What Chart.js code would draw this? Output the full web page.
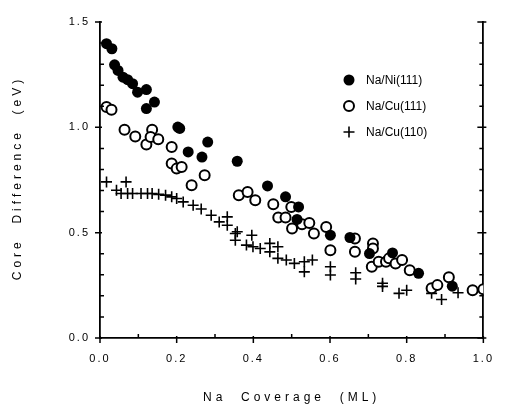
<!DOCTYPE html>
<html>
<head>
<meta charset="utf-8">
<script src="https://cdn.jsdelivr.net/npm/chart.js@4.4.1/dist/chart.umd.min.js"></script>
<style>
  html, body { margin: 0; padding: 0; background: #fff; }
  canvas { display: block; }
</style>
</head>
<body>
<canvas id="grafico" width="505" height="410"></canvas>
<script>
// values
const etiquetas = ["Na/Ni(111)", "Na/Cu(111)", "Na/Cu(110)"];
const tituloX = "Na  Coverage  (ML)";
const tituloY = "Core  Difference  (eV)";

const niX = [0.017, 0.031, 0.038, 0.047, 0.060, 0.072, 0.085, 0.098, 0.121, 0.121, 0.142, 0.203, 0.208, 0.230, 0.266, 0.281, 0.358, 0.437, 0.484, 0.518, 0.514, 0.601, 0.652, 0.703, 0.763, 0.831, 0.919];
const niY = [1.397, 1.373, 1.297, 1.270, 1.238, 1.226, 1.207, 1.167, 1.179, 1.089, 1.120, 1.001, 0.995, 0.883, 0.859, 0.930, 0.839, 0.722, 0.670, 0.622, 0.563, 0.488, 0.477, 0.401, 0.404, 0.307, 0.246];

const cu111X = [0.017, 0.030, 0.064, 0.092, 0.121, 0.136, 0.132, 0.152, 0.187, 0.187, 0.200, 0.213, 0.239, 0.273, 0.362, 0.385, 0.405, 0.452, 0.465, 0.484, 0.499, 0.501, 0.527, 0.546, 0.558, 0.590, 0.601, 0.665, 0.665, 0.712, 0.712, 0.709, 0.727, 0.746, 0.754, 0.771, 0.788, 0.808, 0.865, 0.880, 0.910, 0.972, 1.000];
const cu111Y = [1.096, 1.084, 0.989, 0.957, 0.919, 0.989, 0.954, 0.943, 0.907, 0.828, 0.804, 0.812, 0.725, 0.772, 0.678, 0.693, 0.654, 0.635, 0.572, 0.572, 0.622, 0.520, 0.540, 0.546, 0.496, 0.527, 0.417, 0.472, 0.409, 0.449, 0.425, 0.338, 0.362, 0.362, 0.378, 0.354, 0.370, 0.322, 0.236, 0.251, 0.288, 0.227, 0.231];

const cu110X = [0.017, 0.068, 0.043, 0.055, 0.072, 0.085, 0.107, 0.124, 0.136, 0.153, 0.171, 0.187, 0.200, 0.217, 0.243, 0.264, 0.290, 0.311, 0.332, 0.332, 0.358, 0.353, 0.353, 0.382, 0.396, 0.399, 0.418, 0.443, 0.443, 0.464, 0.464, 0.486, 0.507, 0.533, 0.533, 0.554, 0.601, 0.601, 0.667, 0.667, 0.737, 0.737, 0.780, 0.800, 0.865, 0.891, 0.934, 1.000];
const cu110Y = [0.741, 0.741, 0.701, 0.686, 0.686, 0.686, 0.686, 0.686, 0.686, 0.682, 0.678, 0.670, 0.662, 0.646, 0.630, 0.612, 0.583, 0.551, 0.575, 0.535, 0.504, 0.496, 0.464, 0.441, 0.488, 0.433, 0.425, 0.449, 0.409, 0.433, 0.378, 0.370, 0.354, 0.362, 0.314, 0.370, 0.338, 0.299, 0.310, 0.280, 0.260, 0.245, 0.212, 0.227, 0.212, 0.183, 0.215, 0.227];

const xMarcas = [0, 0.1, 0.2, 0.3, 0.4, 0.5, 0.6, 0.7, 0.8, 0.9, 1.0];
const xEtiquetas = [0, 0.2, 0.4, 0.6, 0.8, 1.0];
const yMarcas = [0, 0.1, 0.2, 0.3, 0.4, 0.5, 0.6, 0.7, 0.8, 0.9, 1.0, 1.1, 1.2, 1.3, 1.4, 1.5];
const yEtiquetas = [0, 0.5, 1.0, 1.5];

const puntos = (xs, ys) => xs.map((x, i) => ({ x: x, y: ys[i] }));
const esEtiqueta = (lista, v) => lista.some((e) => Math.abs(e - v) < 1e-6);

const fuente = "'Liberation Sans', Arial, sans-serif";

// small tick marks: major outward, minor inward
const marcasEjes = {
  id: "marcasEjes",
  beforeDraw(chart) {
    chart.ctx.letterSpacing = "2px";
  },
  afterDraw(chart) {
    const ctx = chart.ctx;
    const a = chart.chartArea;
    const sx = chart.scales.x;
    const sy = chart.scales.y;
    ctx.save();
    ctx.strokeStyle = "#000";
    ctx.lineWidth = 1.5;
    ctx.beginPath();
    xMarcas.forEach((v) => {
      const px = sx.getPixelForValue(v);
      if (esEtiqueta(xEtiquetas, v)) {
        ctx.moveTo(px, a.bottom - 2);
        ctx.lineTo(px, a.bottom + 5);
      } else {
        ctx.moveTo(px, a.bottom);
        ctx.lineTo(px, a.bottom - 4);
      }
    });
    yMarcas.forEach((v) => {
      const py = sy.getPixelForValue(v);
      if (esEtiqueta(yEtiquetas, v)) {
        ctx.moveTo(a.left - 5, py);
        ctx.lineTo(a.left + 2, py);
        ctx.moveTo(a.right - 6, py);
        ctx.lineTo(a.right + 3, py);
      } else {
        ctx.moveTo(a.left, py);
        ctx.lineTo(a.left + 4, py);
        ctx.moveTo(a.right - 4, py);
        ctx.lineTo(a.right, py);
      }
    });
    ctx.stroke();
    ctx.restore();
  }
};

// axis titles with wide letter spacing
const titulos = {
  id: "titulos",
  afterDraw(chart) {
    const ctx = chart.ctx;
    const a = chart.chartArea;
    const esp = 4;
    ctx.save();
    ctx.letterSpacing = esp + "px";
    ctx.font = "12px " + fuente;
    ctx.fillStyle = "#000";
    ctx.textAlign = "left";
    ctx.textBaseline = "middle";
    let w = ctx.measureText(tituloX).width - esp;
    ctx.fillText(tituloX, (a.left + a.right) / 2 - 2 - w / 2, 398);
    w = ctx.measureText(tituloY).width - esp;
    ctx.translate(18, (a.top + a.bottom) / 2);
    ctx.rotate(-Math.PI / 2);
    ctx.fillText(tituloY, -w / 2, 0);
    ctx.restore();
  }
};

// legend inside the plot, top right
const leyenda = {
  id: "leyenda",
  afterDraw(chart) {
    const ctx = chart.ctx;
    ctx.save();
    ctx.letterSpacing = "0px";
    ctx.font = "12px " + fuente;
    ctx.textBaseline = "middle";
    chart.data.datasets.forEach((ds, i) => {
      const cy = 80 + i * 26;
      ctx.fillStyle = ds.backgroundColor;
      ctx.strokeStyle = ds.borderColor;
      ctx.lineWidth = ds.borderWidth;
      Chart.helpers.drawPoint(ctx, {
        pointStyle: ds.pointStyle,
        radius: ds.pointRadius,
        borderWidth: ds.borderWidth,
        rotation: 0
      }, 349, cy);
      ctx.fillStyle = "#000";
      ctx.fillText(ds.label, 366, cy + 1);
    });
    ctx.restore();
  }
};

new Chart(document.getElementById("grafico"), {
  type: "scatter",
  data: {
    datasets: [
      {
        label: etiquetas[0],
        data: puntos(niX, niY),
        pointStyle: "circle",
        pointRadius: 5.5,
        backgroundColor: "#000",
        borderColor: "#000",
        borderWidth: 0
      },
      {
        label: etiquetas[1],
        data: puntos(cu111X, cu111Y),
        pointStyle: "circle",
        pointRadius: 5,
        backgroundColor: "#fff",
        borderColor: "#000",
        borderWidth: 2
      },
      {
        label: etiquetas[2],
        data: puntos(cu110X, cu110Y),
        pointStyle: "cross",
        pointRadius: 5.5,
        backgroundColor: "#000",
        borderColor: "#000",
        borderWidth: 1.6
      }
    ]
  },
  options: {
    responsive: false,
    animation: false,
    events: [],
    layout: { padding: { left: 0, top: 22, right: 14, bottom: 0 } },
    plugins: { legend: { display: false }, tooltip: { enabled: false } },
    scales: {
      x: {
        type: "linear",
        min: 0,
        max: 1.0,
        afterBuildTicks: (s) => { s.ticks = xMarcas.map((v) => ({ value: v })); },
        afterFit: (s) => { s.height = 72; },
        grid: { drawOnChartArea: false, drawTicks: false },
        border: { display: true, color: "#000", width: 1.8 },
        ticks: {
          padding: 14,
          color: "#000",
          font: { family: fuente, size: 11 },
          maxRotation: 0,
          autoSkip: false,
          callback: (v) => (esEtiqueta(xEtiquetas, v) ? v.toFixed(1) : "")
        }
      },
      y: {
        type: "linear",
        min: 0,
        max: 1.5,
        afterBuildTicks: (s) => { s.ticks = yMarcas.map((v) => ({ value: v })); },
        afterFit: (s) => { s.width = 100; },
        grid: { drawOnChartArea: false, drawTicks: false },
        border: { display: true, color: "#000", width: 1.8 },
        ticks: {
          padding: 10,
          color: "#000",
          font: { family: fuente, size: 11 },
          autoSkip: false,
          callback: (v) => (esEtiqueta(yEtiquetas, v) ? v.toFixed(1) : "")
        }
      },
      y2: {
        type: "linear",
        position: "right",
        min: 0,
        max: 1.5,
        afterFit: (s) => { s.width = 0; },
        grid: { drawOnChartArea: false, drawTicks: false },
        border: { display: true, color: "#000", width: 1.8 },
        ticks: { display: false }
      }
    }
  },
  plugins: [marcasEjes, titulos, leyenda]
});
</script>
</body>
</html>
